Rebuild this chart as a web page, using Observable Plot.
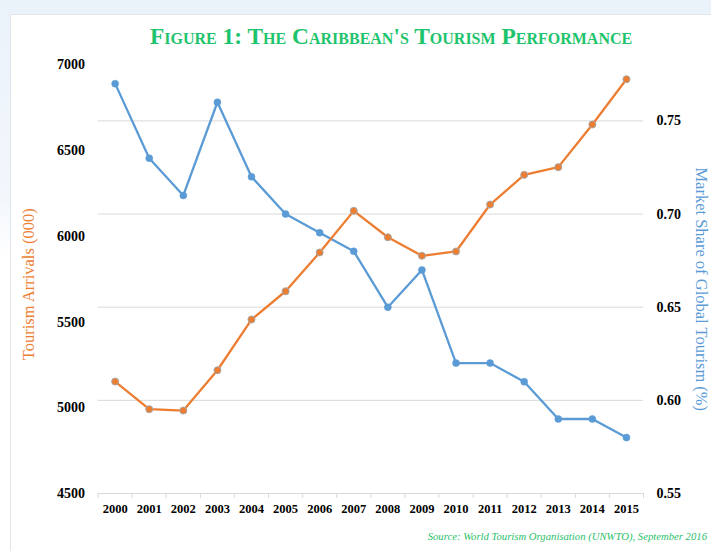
<!DOCTYPE html>
<html>
<head>
<meta charset="utf-8">
<script src="https://cdn.jsdelivr.net/npm/d3@7"></script>
<script src="https://cdn.jsdelivr.net/npm/@observablehq/plot@0.6"></script>
<style>
  html, body { margin: 0; padding: 0; }
  body { width: 711px; height: 551px; overflow: hidden; position: relative;
         background: linear-gradient(180deg, #eaf2fa 0px, #f3f7fc 200px, #ffffff 260px); }
  #card { position: absolute; left: 10px; top: 14px; width: 760px; height: 600px;
          background: #fff; border: 1px solid #e2e7ee; z-index: 0; }
  #title, #chart, #source { position: relative; z-index: 1; }
  #title { height: 52px; box-sizing: border-box; padding-top: 23px; padding-left: 150px;
           line-height: 26px; font-family: "Liberation Serif", serif; font-weight: bold;
           font-variant: small-caps; font-size: 23.4px; color: #1ec46c; white-space: nowrap; }
  #source { height: 31px; line-height: 32px; text-align: right; padding-right: 4px;
            font-family: "Liberation Serif", serif; font-style: italic; font-size: 10.7px;
            color: #2bbf6c; white-space: nowrap; }
  #chart svg { display: block; }
</style>
</head>
<body>
<div id="card"></div>
<div id="title">Figure 1: The Caribbean's Tourism Performance</div>
<div id="chart"></div>
<div id="source">Source: World Tourism Organisation (UNWTO), September 2016</div>
<script>
const years = [2000, 2001, 2002, 2003, 2004, 2005, 2006, 2007, 2008, 2009, 2010, 2011, 2012, 2013, 2014, 2015];
const arrivals = [5153, 4992, 4984, 5219, 5515, 5680, 5906, 6149, 5995, 5887, 5912, 6186, 6359, 6404, 6653, 6917];
const share = [0.77, 0.73, 0.71, 0.76, 0.72, 0.70, 0.69, 0.68, 0.65, 0.67, 0.62, 0.62, 0.61, 0.59, 0.59, 0.58];
const arrivalTicks = [4500, 5000, 5500, 6000, 6500, 7000];
const shareTicks = [0.55, 0.60, 0.65, 0.70, 0.75];
const leftTitle = "Tourism Arrivals (000)";
const rightTitle = "Market Share of Global Tourism (%)";

const arrivalDomain = [4500, 7000];
const shareDomain = [0.55, 0.78];
const y2 = d3.scaleLinear(shareDomain, arrivalDomain);

const rows = years.map((yr, i) => ({year: yr, arrivals: arrivals[i], share: y2(share[i])}));
const boundaries = [...years.map(y => y - 0.5), years[years.length - 1] + 0.5];

const orange = "#ed7d31";
const blue = "#5b9bd5";
const grid = "#d9d9d9";

const chart = Plot.plot({
  width: 711,
  height: 468,
  marginLeft: 97.6,
  marginRight: 68,
  marginTop: 12.5,
  marginBottom: 27,
  x: {domain: [boundaries[0], boundaries[boundaries.length - 1]], label: null},
  y: {domain: arrivalDomain, label: null},
  style: {fontFamily: "Liberation Serif, serif", color: "#000", background: "transparent", overflow: "visible"},
  marks: [
    Plot.gridY(shareTicks.map(y2), {stroke: grid, strokeOpacity: 1, strokeWidth: 1}),
    Plot.ruleY([arrivalDomain[0]], {stroke: grid, strokeWidth: 1}),
    Plot.axisX(boundaries, {tickSize: 5, stroke: grid, strokeOpacity: 1, tickFormat: () => "", label: null}),
    Plot.axisX(years, {tickSize: 0, tickPadding: 11, tickFormat: d => String(d), label: null,
      fontSize: 12.5, fontWeight: "bold"}),
    Plot.axisY(arrivalTicks, {anchor: "left", tickSize: 0, tickPadding: 13, label: null,
      tickFormat: d => String(d), fontSize: 14, fontWeight: "bold"}),
    Plot.axisY(shareTicks.map(y2), {anchor: "right", tickSize: 0, tickPadding: 13, label: null,
      tickFormat: d => y2.invert(d).toFixed(2), fontSize: 14, fontWeight: "bold"}),
    Plot.line(rows, {x: "year", y: "share", stroke: blue, strokeWidth: 2.3}),
    Plot.dot(rows, {x: "year", y: "share", r: 3.5, fill: blue, stroke: blue, strokeWidth: 0.5}),
    Plot.line(rows, {x: "year", y: "arrivals", stroke: orange, strokeWidth: 2.3}),
    Plot.dot(rows, {x: "year", y: "arrivals", r: 3.5, fill: orange, stroke: "#a6a6a6", strokeWidth: 1}),
    Plot.text([leftTitle], {frameAnchor: "left", textAnchor: "middle", lineAnchor: "middle",
      dx: -69.6, dy: 5, rotate: -90, fill: orange, fontSize: 16.5, fontWeight: 500}),
    Plot.text([rightTitle], {frameAnchor: "right", textAnchor: "middle", lineAnchor: "middle",
      dx: 58, dy: 10, rotate: 90, fill: blue, fontSize: 16.5, fontWeight: 500})
  ]
});
document.getElementById("chart").appendChild(chart);
</script>
</body>
</html>
